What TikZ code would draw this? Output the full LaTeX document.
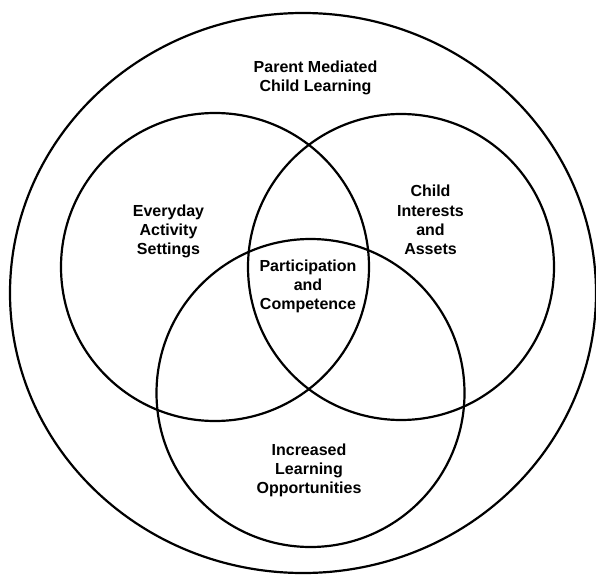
\documentclass[tikz,border=0pt]{standalone}
\usepackage{fontspec}
\setmainfont{Liberation Sans}
\begin{document}
\begin{tikzpicture}[x=1pt,y=-1pt,
    ring/.style={line width=2.2pt},
    venntext/.style={font=\bfseries\fontsize{16}{19.2}\selectfont, align=center}]
        \useasboundingbox (0,0) rectangle (596,575);

        % Draw outer ring
        \draw[ring] (303,293) ellipse [x radius=293, y radius=280];

        % Draw the three sets
        \draw[ring] (215,267) circle [radius=154];
        \draw[ring] (401,267) circle [radius=153];
        \draw[ring] (310.5,393) circle [radius=154];

        \node[venntext] (parent) at (315.5,78) {Parent Mediated\\Child Learning};
        \node[venntext] (everyday) at (168.5,231.5) {Everyday\\Activity\\Settings};
        \node[venntext] (interests) at (430.5,220) {Child\\Interests\\and\\Assets};
        \node[venntext] (participation) at (308,286.5) {Participation\\and\\Competence};
        \node[venntext] (opportunities) at (309,470.5) {Increased\\Learning\\Opportunities};
    \end{tikzpicture}
\end{document}
